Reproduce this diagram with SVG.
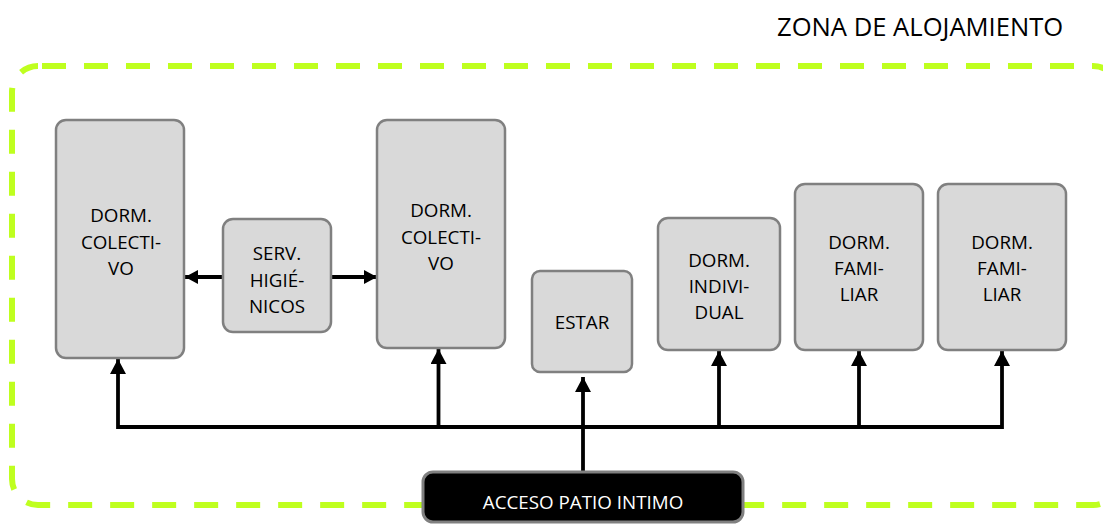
<svg xmlns="http://www.w3.org/2000/svg" width="1103" height="524" viewBox="0 0 1103 524">
<defs>
<style>
.zone{fill:none;stroke:#bfff1f;stroke-width:6;stroke-dasharray:24 18;stroke-dashoffset:38}
.box{fill:#d9d9d9;stroke:#808080;stroke-width:2.5}
.lbl{font-family:"Open Sans","Liberation Sans",sans-serif;font-size:18.8px;fill:#000;text-anchor:middle}
.title{font-family:"Open Sans","Liberation Sans",sans-serif;font-size:25.6px;fill:#000}
.ln{fill:none;stroke:#000;stroke-width:3.8}
.acc{fill:#000;stroke:#808080;stroke-width:3}
</style>
<marker id="ah" markerUnits="userSpaceOnUse" viewBox="0 0 15 16" refX="15" refY="8" markerWidth="15" markerHeight="16" orient="auto">
<path d="M0,0 L15,8 L0,16 Z" fill="#000"/>
</marker>
<marker id="ahs" markerUnits="userSpaceOnUse" viewBox="0 0 13 14" refX="13" refY="7" markerWidth="13" markerHeight="14" orient="auto">
<path d="M0,0 L13,7 L0,14 Z" fill="#000"/>
</marker>
</defs>

<text class="title" x="777" y="36">ZONA DE ALOJAMIENTO</text>
<rect class="zone" x="12" y="66" width="1107" height="439" rx="26" ry="26"/>

<g id="connectors">
<path class="ln" d="M118,427 H1003"/>
<line class="ln" x1="118" y1="429" x2="118" y2="359" marker-end="url(#ah)"/>
<line class="ln" x1="438.5" y1="427" x2="438.5" y2="349" marker-end="url(#ah)"/>
<line class="ln" x1="583" y1="472" x2="583" y2="377" marker-end="url(#ah)"/>
<line class="ln" x1="719" y1="427" x2="719" y2="351" marker-end="url(#ah)"/>
<line class="ln" x1="859" y1="427" x2="859" y2="351" marker-end="url(#ah)"/>
<line class="ln" x1="1002" y1="429" x2="1002" y2="351" marker-end="url(#ah)"/>
<line class="ln" x1="223" y1="277" x2="185" y2="277" marker-end="url(#ahs)"/>
<line class="ln" x1="331" y1="277" x2="377" y2="277" marker-end="url(#ahs)"/>
</g>

<g id="dorm-colectivo-1">
<rect class="box" x="56" y="120" width="128" height="238" rx="10"/>
<text class="lbl" x="121" y="222">DORM.</text>
<text class="lbl" x="121" y="248.5">COLECTI-</text>
<text class="lbl" x="121" y="275">VO</text>
</g>

<g id="serv-higienicos">
<rect class="box" x="223" y="219" width="108" height="113" rx="10"/>
<text class="lbl" x="277" y="260">SERV.</text>
<text class="lbl" x="277" y="286.5">HIGIÉ-</text>
<text class="lbl" x="277" y="313">NICOS</text>
</g>

<g id="dorm-colectivo-2">
<rect class="box" x="377" y="120" width="128" height="228" rx="10"/>
<text class="lbl" x="441" y="217">DORM.</text>
<text class="lbl" x="441" y="243.5">COLECTI-</text>
<text class="lbl" x="441" y="270">VO</text>
</g>

<g id="estar">
<rect class="box" x="532" y="271" width="100" height="101" rx="8"/>
<text class="lbl" x="582" y="329">ESTAR</text>
</g>

<g id="dorm-individual">
<rect class="box" x="658" y="218" width="122" height="132" rx="10"/>
<text class="lbl" x="719" y="267">DORM.</text>
<text class="lbl" x="719" y="293">INDIVI-</text>
<text class="lbl" x="719" y="319">DUAL</text>
</g>

<g id="dorm-familiar-1">
<rect class="box" x="795" y="184" width="128" height="166" rx="10"/>
<text class="lbl" x="859" y="249">DORM.</text>
<text class="lbl" x="859" y="275">FAMI-</text>
<text class="lbl" x="859" y="300.5">LIAR</text>
</g>

<g id="dorm-familiar-2">
<rect class="box" x="938" y="184" width="128" height="166" rx="10"/>
<text class="lbl" x="1002" y="249">DORM.</text>
<text class="lbl" x="1002" y="275">FAMI-</text>
<text class="lbl" x="1002" y="300.5">LIAR</text>
</g>

<g id="acceso-patio-intimo">
<rect class="acc" x="423" y="472" width="320" height="50" rx="10"/>
<text class="lbl" x="583" y="509" style="fill:#fff">ACCESO PATIO INTIMO</text>
</g>
</svg>
